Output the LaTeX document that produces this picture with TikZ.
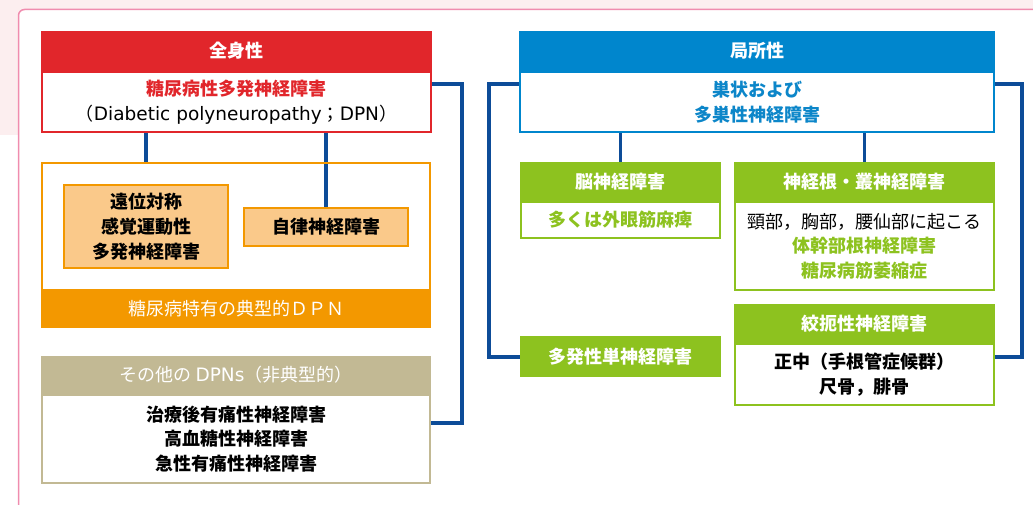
\documentclass[tikz,border=0pt]{standalone}
\usepackage{fontspec}
\setmainfont{Noto Sans CJK JP}
\newfontfamily\latinfont{DejaVu Sans}
\usetikzlibrary{backgrounds}
\definecolor{cred}{HTML}{E1262B}
\definecolor{corange}{HTML}{F39800}
\definecolor{clorange}{HTML}{FAC98A}
\definecolor{ctan}{HTML}{C2B994}
\definecolor{cblue}{HTML}{0086CD}
\definecolor{cbluetext}{HTML}{0C86C9}
\definecolor{cgreen}{HTML}{8DC21F}
\definecolor{cconn}{HTML}{0D4C98}
\definecolor{pinkbg}{HTML}{FCEEEF}
\definecolor{pinkline}{HTML}{F08CAE}
\newcommand{\lat}[1]{{\latinfont\fontsize{18.5pt}{25pt}\selectfont #1}}
\begin{document}
\begin{tikzpicture}[x=1pt,y=-1pt,
  every node/.style={font=\fontsize{18pt}{25pt}\selectfont},
  conn/.style={draw=cconn,line width=3.3pt},
  hdr/.style={rectangle,fill=#1,text=white,inner sep=0pt,font=\fontsize{18pt}{25pt}\selectfont\bfseries},
  hdrlight/.style={rectangle,fill=#1,text=white,inner sep=0pt},
  bbox/.style={rectangle,draw=#1,fill=white,line width=2.4pt,inner sep=0pt,align=center},
  ibox/.style={rectangle,draw=corange,fill=clorange,line width=2.4pt,inner sep=0pt,align=center,font=\fontsize{18pt}{25pt}\selectfont\bfseries}]
\useasboundingbox (0,0) rectangle (1033,505);
\clip (0,0) rectangle (1033,505);
\begin{scope}[on background layer]
  \fill[pinkbg] (0,0) rectangle (1033,135);
  \draw[pinkline,line width=1.5pt,fill=white,rounded corners=6pt] (18.5,9.5) rectangle (1100,560);
\end{scope}

% ---------- left column ----------
\node[hdr=cred,minimum width=391pt,minimum height=40pt] (zenH) at (236.5,51) {全身性};
\node[bbox=cred,minimum width=388.6pt,minimum height=59.6pt] (zenB) at (236.5,102)
  {\textcolor{cred}{\bfseries 糖尿病性多発神経障害}\\（\lat{Diabetic polyneuropathy}；\lat{DPN}）};

\node[bbox=corange,fill=none,minimum width=387.6pt,minimum height=163.6pt] (typ) at (236,245) {};
\node[hdrlight=corange,minimum width=390pt,minimum height=39pt] (typBand) at (236,308.5) {糖尿病特有の典型的ＤＰＮ};
\node[ibox,minimum width=163.6pt,minimum height=82.6pt] (dist) at (146,226.5) {遠位対称\\感覚運動性\\多発神経障害};
\node[ibox,minimum width=163.6pt,minimum height=37.6pt] (auto) at (326,227) {自律神経障害};

\node[hdrlight=ctan,minimum width=390pt,minimum height=38pt] (othH) at (236,375) {その他の \lat{DPNs}（非典型的）};
\node[bbox=ctan,minimum width=387.6pt,minimum height=87.6pt,font=\fontsize{18pt}{24.5pt}\selectfont\bfseries] (othB) at (236,439)
  {治療後有痛性神経障害\\高血糖性神経障害\\急性有痛性神経障害};

% ---------- right column ----------
\node[hdr=cblue,minimum width=476pt,minimum height=40pt] (kyoH) at (757,51) {局所性};
\node[bbox=cblue,minimum width=473.6pt,minimum height=59.6pt,text=cbluetext,font=\fontsize{18pt}{25pt}\selectfont\bfseries] (kyoB) at (757,102)
  {巣状および\\多巣性神経障害};

\node[hdr=cgreen,minimum width=201pt,minimum height=39pt] (brH) at (620.5,181.5) {脳神経障害};
\node[bbox=cgreen,minimum width=198.6pt,minimum height=35.6pt,text=cgreen,font=\fontsize{18pt}{25pt}\selectfont\bfseries] (brB) at (620.5,220) {多くは外眼筋麻痺};

\node[hdr=cgreen,minimum width=261pt,minimum height=39pt] (rtH) at (864.5,181.5) {神経根・叢神経障害};
\node[bbox=cgreen,minimum width=258.6pt,minimum height=87.6pt,font=\fontsize{18pt}{24.5pt}\selectfont] (rtB) at (864.5,246)
  {頸部，胸部，腰仙部に起こる\\\textcolor{cgreen}{\bfseries 体幹部根神経障害}\\\textcolor{cgreen}{\bfseries 糖尿病筋萎縮症}};

\node[hdr=cgreen,minimum width=201pt,minimum height=41pt] (multi) at (620.5,356.5) {多発性単神経障害};

\node[hdr=cgreen,minimum width=261pt,minimum height=39pt] (enH) at (864.5,323.5) {絞扼性神経障害};
\node[bbox=cgreen,minimum width=258.6pt,minimum height=60.6pt,font=\fontsize{18pt}{25pt}\selectfont\bfseries] (enB) at (864.5,374.5)
  {正中（手根管症候群）\\尺骨，腓骨};

% ---------- connectors ----------
\coordinate (lb1) at (462,84);
\coordinate (lb2) at (462,423);
\coordinate (rb1) at (489,84);
\coordinate (rb2) at (489,357);
\coordinate (rc1) at (1022,84);
\coordinate (rc2) at (1022,357);
\begin{scope}[on background layer]
  \draw[conn] (zenB.south -| dist.north) -- (typ.north -| dist.north);
  \draw[conn] (zenB.south -| auto.north) -- (auto.north);
  \draw[conn] (zenB.east |- lb1) -- (lb1) -- (lb2) -- (othB.east |- lb2);
  \draw[conn] (kyoB.south -| brH.north) -- (brH.north);
  \draw[conn] (kyoB.south -| rtH.north) -- (rtH.north);
  \draw[conn] (kyoB.west |- rb1) -- (rb1) -- (rb2) -- (multi.west |- rb2);
  \draw[conn] (kyoB.east |- rc1) -- (rc1) -- (rc2) -- (enB.east |- rc2);
\end{scope}
\end{tikzpicture}
\end{document}
